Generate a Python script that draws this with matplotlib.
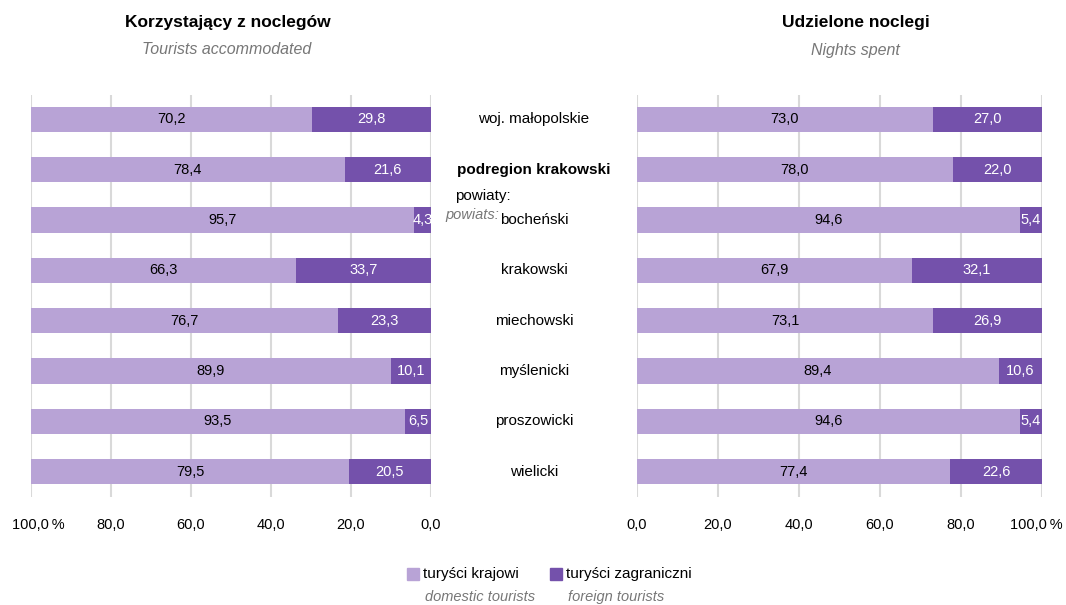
import matplotlib
matplotlib.use('Agg')
import matplotlib.pyplot as plt
import matplotlib.transforms as mtrans
import numpy as np

plt.rcParams['font.family'] = ['Liberation Sans', 'DejaVu Sans']

categories = ['woj. małopolskie', 'podregion krakowski', 'bocheński', 'krakowski',
              'miechowski', 'myślenicki', 'proszowicki', 'wielicki']
tourists_domestic = [70.2, 78.4, 95.7, 66.3, 76.7, 89.9, 93.5, 79.5]
tourists_foreign = [29.8, 21.6, 4.3, 33.7, 23.3, 10.1, 6.5, 20.5]
nights_domestic = [73.0, 78.0, 94.6, 67.9, 73.1, 89.4, 94.6, 77.4]
nights_foreign = [27.0, 22.0, 5.4, 32.1, 26.9, 10.6, 5.4, 22.6]
ticks = [0, 20, 40, 60, 80, 100]

c_dom = '#b8a3d6'
c_for = '#7451ab'
grey = '#777777'

W, H = 1066, 605
fig = plt.figure(figsize=(W / 100, H / 100), dpi=100)

bottom = 1 - 497 / H
height = (497 - 95) / H
axL = fig.add_axes([31 / W, bottom, 400 / W, height])
axR = fig.add_axes([637 / W, bottom, 405 / W, height])

y = np.arange(len(categories))
bh = 0.5

def fmt(v):
    return f'{v:.1f}'.replace('.', ',')

for ax, dom, forg, left in [(axL, tourists_domestic, tourists_foreign, True),
                             (axR, nights_domestic, nights_foreign, False)]:
    if left:
        ax.barh(y, forg, height=bh, color=c_for, zorder=3)
        ax.barh(y, dom, left=forg, height=bh, color=c_dom, zorder=3)
        ax.set_xlim(100, 0)
        dom_x = [f + d / 2 for f, d in zip(forg, dom)]
        for_x = [f / 2 for f in forg]
    else:
        ax.barh(y, dom, height=bh, color=c_dom, zorder=3)
        ax.barh(y, forg, left=dom, height=bh, color=c_for, zorder=3)
        ax.set_xlim(0, 100)
        dom_x = [d / 2 for d in dom]
        for_x = [d + f / 2 for f, d in zip(forg, dom)]
    for i in range(len(y)):
        ax.text(dom_x[i], y[i], fmt(dom[i]), ha='center', va='center',
                fontsize=10.5, color='black', zorder=4)
        ax.text(for_x[i], y[i], fmt(forg[i]), ha='center', va='center',
                fontsize=10.5, color='white', zorder=4)
    labels = [fmt(t) for t in ticks]
    labels[-1] = '100,0\u2009%'
    ax.set_ylim(7.5, -0.48)
    ax.set_xticks(ticks)
    ax.set_xticklabels(labels, fontsize=10.5)
    ax.set_yticks([])
    ax.tick_params(axis='x', length=0, pad=15)
    ax.grid(axis='x', color='#d9d9d9', linewidth=1.5, zorder=0)
    for s in ax.spines.values():
        s.set_visible(False)
    # shift the "100,0 %" label so that the number sits over its tick
    lab = ax.get_xticklabels()[-1]
    dx = 5 / 72 if left else -4 / 72
    lab.set_transform(lab.get_transform() +
                      mtrans.ScaledTranslation(dx, 0, fig.dpi_scale_trans))

# category labels in the middle
tr = mtrans.blended_transform_factory(fig.transFigure, axL.transData)
for i, c in enumerate(categories):
    fw = 'bold' if i == 1 else 'normal'
    fig.text(534 / W, y[i], c, transform=tr, ha='center', va='center',
             fontsize=11, fontweight=fw)
fig.text(455 / W, 1.53, 'powiaty:', transform=tr, ha='left', va='center', fontsize=11)
fig.text(445 / W, 1.9, 'powiats:', transform=tr, ha='left', va='center', fontsize=10.5,
         style='italic', color=grey)

# titles
fig.text(228 / W, 1 - 22 / H, 'Korzystający z noclegów', ha='center', va='center',
         fontsize=12.5, fontweight='bold')
fig.text(227 / W, 1 - 50 / H, 'Tourists accommodated', ha='center', va='center',
         fontsize=11.5, style='italic', color=grey)
fig.text(856 / W, 1 - 22 / H, 'Udzielone noclegi', ha='center', va='center',
         fontsize=12.5, fontweight='bold')
fig.text(855 / W, 1 - 50 / H, 'Nights spent', ha='center', va='center',
         fontsize=11.5, style='italic', color=grey)

# legend
for x0, col, pl, en in [(407, c_dom, 'turyści krajowi', 'domestic tourists'),
                        (550, c_for, 'turyści zagraniczni', 'foreign tourists')]:
    fig.patches.append(plt.Rectangle((x0 / W, 1 - 580 / H), 12 / W, 12 / H,
                                     transform=fig.transFigure, color=col))
    fig.text((x0 + 16) / W, 1 - 574 / H, pl, ha='left', va='center', fontsize=11)
    fig.text((x0 + 18) / W, 1 - 597 / H, en, ha='left', va='center', fontsize=10.5,
             style='italic', color=grey)

fig.savefig('out.png', dpi=100)
